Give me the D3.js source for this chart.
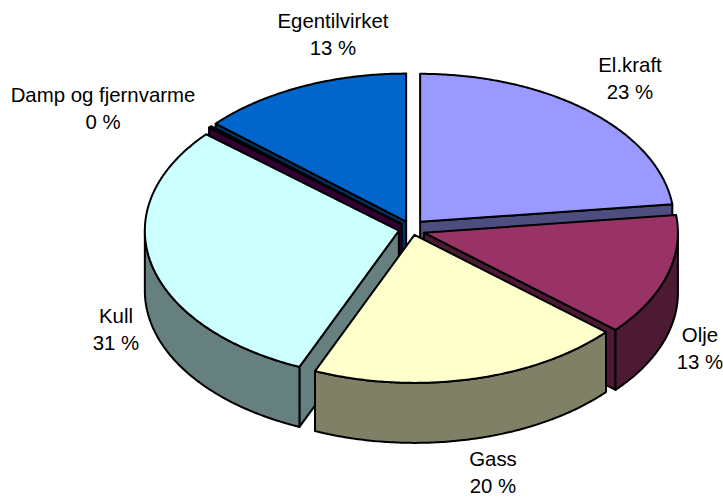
<!DOCTYPE html>
<html>
<head>
<meta charset="utf-8">
<style>html,body{margin:0;padding:0;background:#fff}svg{display:block}</style>
<script src="https://cdn.jsdelivr.net/npm/d3@7/dist/d3.min.js"></script>
</head>
<body>
<div id="chart"></div>
<script>
// Data
const categories   = ["El.kraft", "Olje", "Gass", "Kull", "Damp og fjernvarme", "Egentilvirket"];
const percentLabels = [23, 13, 20, 31, 0, 13];              // printed labels
const sliceShares  = [23.1, 13.3, 20.0, 29.9, 0.2, 13.5];   // share of the ring as drawn
const topColors    = ["#9999FF", "#993366", "#FFFFCC", "#CCFFFF", "#660066", "#0066CC"];
const sideColors   = ["#4D4D80", "#4D1A33", "#808066", "#668080", "#330033", "#003366"];
const paintOrder   = [5, 0, 4, 1, 3, 2];                    // back to front

// Layout
const W = 723, H = 498;
const cx = 411.5, cy = 229, rx = 254, ry = 148, depth = 60, explode = 13;
const perspectiveDy = [-1.5, 1.5, -1.5, 0, 0, -0.5];
const labelPos = [[630, 71.5], [700, 342], [493, 466], [116, 323], [103, 102], [333, 28]];
const lineGap = 27;

const svg = d3.select("#chart").append("svg").attr("width", W).attr("height", H);
const pie = d3.pie().sort(null).value(d => d).startAngle(0).endAngle(2 * Math.PI);
const arcs = pie(sliceShares);
const line = d3.line();

const pt = (ax, ay, t, dz = 0) => [ax + rx * Math.sin(t), ay - ry * Math.cos(t) + dz];
const arcPts = (ax, ay, a, b, dz = 0) => {
  const n = Math.max(2, Math.ceil((b - a) / 0.01));
  return d3.range(n + 1).map(i => pt(ax, ay, a + (b - a) * i / n, dz));
};
const style = (p, fill) => p.attr("fill", fill).attr("stroke", "#000")
  .attr("stroke-width", 2).attr("stroke-linejoin", "round");

paintOrder.forEach(i => {
  const { startAngle: a, endAngle: b } = arcs[i];
  const mid = (a + b) / 2;
  const ax = cx + explode * Math.sin(mid);
  const ay = cy - explode * (ry / rx) * Math.cos(mid) + perspectiveDy[i];
  const g = svg.append("g").attr("class", "slice");
  const face = (ang) => [[ax, ay], pt(ax, ay, ang), pt(ax, ay, ang, depth), [ax, ay + depth]];

  // cut faces turned towards the viewer
  if (Math.sin(a) < 0) style(g.append("path").attr("d", line(face(a)) + "Z"), sideColors[i]);
  if (Math.sin(b) > 0) style(g.append("path").attr("d", line(face(b)) + "Z"), sideColors[i]);

  // outer wall: front half of the ring only
  const wa = Math.max(a, Math.PI / 2), wb = Math.min(b, 3 * Math.PI / 2);
  if (wb > wa) {
    const w = arcPts(ax, ay, wa, wb).concat(arcPts(ax, ay, wa, wb, depth).reverse());
    style(g.append("path").attr("d", line(w) + "Z"), sideColors[i]);
  }

  // top face
  const top = [[ax, ay]].concat(arcPts(ax, ay, a, b));
  style(g.append("path").attr("d", line(top) + "Z"), topColors[i]);
});

// labels
categories.forEach((c, i) => {
  const [x, y] = labelPos[i];
  const t = svg.append("text").attr("text-anchor", "middle")
    .attr("font-family", "'Liberation Sans', Arial, sans-serif")
    .attr("font-size", 20.4).attr("fill", "#000");
  t.append("tspan").attr("x", x).attr("y", y).text(c);
  t.append("tspan").attr("x", x).attr("y", y + lineGap).text(percentLabels[i] + " %");
});
</script>
</body>
</html>
